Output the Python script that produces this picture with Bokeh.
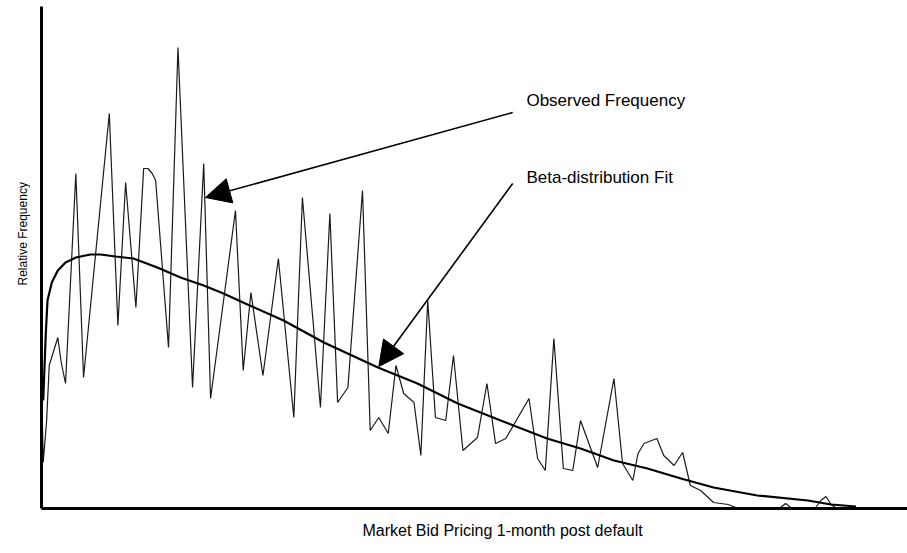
from bokeh.plotting import figure
from bokeh.models import Range1d, Arrow, NormalHead, Label, Title
from bokeh.embed import file_html
from bokeh.resources import INLINE

# Observed frequency (x: bid price, % of par; y: relative frequency, %)
obs_price = [0.0, 0.2, 0.6, 0.9, 1.9, 2.3, 2.8, 4.0, 4.9, 7.9, 8.9, 9.8, 11.0,
             11.9, 12.4, 12.9, 13.3, 14.8, 15.9, 17.6, 18.9, 19.7, 22.6, 23.5,
             24.4, 25.8, 27.6, 29.4, 30.4, 32.5, 33.6, 34.5, 35.7, 37.4, 38.3,
             39.3, 40.4, 41.3, 42.2, 43.4, 44.2, 45.0, 45.9, 47.1, 48.0, 49.1,
             50.8, 51.9, 52.9, 54.1, 56.8, 57.8, 58.7, 59.7, 60.8, 61.9, 62.8,
             64.8, 66.7, 67.7, 68.9, 69.5, 70.2, 71.7, 72.5, 73.7, 74.7, 75.6,
             76.8, 78.3, 80.0, 80.9, 86.1, 86.7, 87.3, 90.2, 90.8, 91.4, 92.0,
             92.5]
obs_freq = [2.60, 0.92, 1.76, 2.86, 3.42, 2.92, 2.50, 6.70, 2.62, 7.90, 3.66,
            6.52, 4.02, 6.80, 6.80, 6.70, 6.56, 3.22, 9.22, 2.42, 6.90, 2.20,
            5.96, 2.76, 4.32, 2.66, 5.00, 1.82, 6.22, 2.02, 5.90, 2.12, 2.42,
            6.36, 1.56, 1.82, 1.50, 2.86, 2.30, 2.12, 1.06, 4.16, 1.82, 1.76,
            3.06, 1.16, 1.42, 2.50, 1.30, 1.40, 2.20, 1.00, 0.76, 3.40, 0.80,
            0.76, 1.76, 0.82, 2.60, 0.90, 0.56, 1.10, 1.30, 1.40, 1.06, 0.86,
            1.12, 0.46, 0.36, 0.12, 0.08, 0.02, 0.02, 0.10, 0.02, 0.02, 0.16,
            0.24, 0.08, 0.02]

# Beta-distribution fit
fit_price = [0.2, 0.5, 0.7, 1.2, 1.9, 2.8, 4.0, 5.7, 6.9, 8.6, 10.7, 13.5,
             16.2, 18.9, 21.2, 24.0, 28.2, 32.9, 39.2, 43.8, 48.5, 53.5, 58.9,
             62.8, 66.7, 70.6, 74.5, 78.3, 83.4, 89.3, 92.0, 94.9]
fit_freq = [2.16, 3.50, 4.16, 4.52, 4.76, 4.92, 5.02, 5.08, 5.08, 5.04, 5.00,
            4.82, 4.62, 4.46, 4.30, 4.08, 3.76, 3.32, 2.82, 2.50, 2.10, 1.76,
            1.40, 1.20, 0.96, 0.80, 0.60, 0.42, 0.26, 0.16, 0.08, 0.04]

x_label = "Market Bid Pricing 1-month post default"
y_label = "Relative Frequency"
obs_note = "Observed Frequency"
fit_note = "Beta-distribution Fit"

FONT = "Liberation Sans"

p = figure(width=907, height=553, output_backend="svg", toolbar_location=None,
           title=None, x_range=Range1d(0, 100.9), y_range=Range1d(0, 10.04),
           min_border_left=41, min_border_right=0, min_border_top=6,
           min_border_bottom=45)
p.outline_line_color = None
p.grid.visible = False

for ax in (p.xaxis, p.yaxis):
    ax.ticker = []
    ax.major_tick_line_color = None
    ax.minor_tick_line_color = None
    ax.major_tick_out = 0
    ax.minor_tick_out = 0
    ax.major_label_standoff = 0
    ax.major_label_text_font_size = "0px"
    ax.axis_line_width = 3
    ax.axis_line_color = "black"

p.line(obs_price, obs_freq, line_color="#1a1a1a", line_width=1.2)
p.line(fit_price, fit_freq, line_color="black", line_width=2.2)

p.add_layout(Arrow(x_start=54.9, y_start=7.92, x_end=19.1, y_end=6.22,
                   line_width=1.6, line_color="black",
                   end=NormalHead(size=25, fill_color="black", line_color="black")))
p.add_layout(Arrow(x_start=54.9, y_start=6.50, x_end=39.3, y_end=2.84,
                   line_width=1.6, line_color="black",
                   end=NormalHead(size=25, fill_color="black", line_color="black")))

p.add_layout(Label(x=56.5, y=8.16, text=obs_note, text_font=FONT,
                   text_font_size="17px", text_baseline="middle",
                   text_align="left", text_color="black"))
p.add_layout(Label(x=56.5, y=6.62, text=fit_note, text_font=FONT,
                   text_font_size="17px", text_baseline="middle",
                   text_align="left", text_color="black"))

p.add_layout(Title(text=x_label, align="left", offset=321, vertical_align="top",
                   standoff=26, text_font=FONT, text_font_size="16px",
                   text_font_style="normal", text_color="black"), "below")
p.add_layout(Title(text=y_label, align="left", offset=223, vertical_align="bottom",
                   standoff=24, text_font=FONT, text_font_size="12px",
                   text_font_style="normal", text_color="black"), "left")

open("out.html", "w").write(file_html(p, INLINE))
